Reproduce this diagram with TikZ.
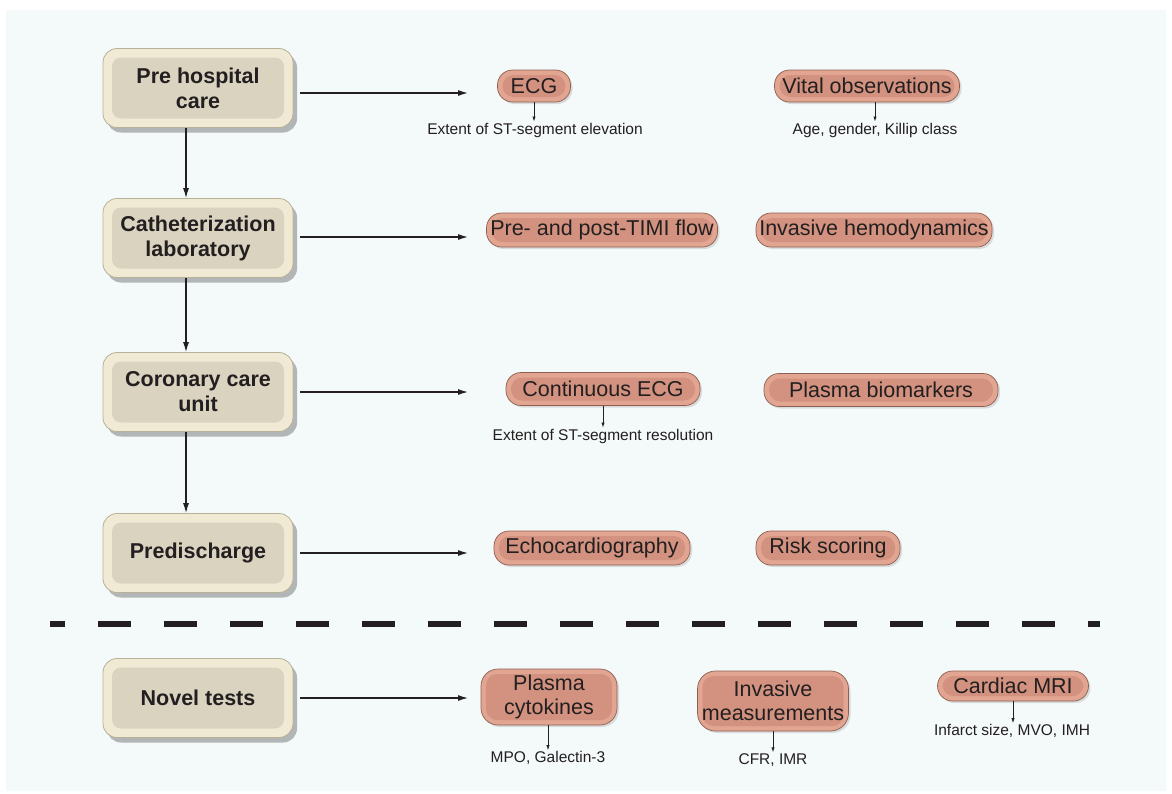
\documentclass[tikz,border=0pt]{standalone}
\usepackage{fontspec}
\setmainfont{Liberation Sans}
\usetikzlibrary{shadows,arrows.meta,calc}
\definecolor{bgedge}{HTML}{D9EDED}
\definecolor{bgmid}{HTML}{F4F9FA}
\definecolor{stageout}{HTML}{F0EAD5}
\definecolor{stagein}{HTML}{DAD3C0}
\definecolor{stageedge}{HTML}{B8B198}
\definecolor{pillout}{HTML}{E2A592}
\definecolor{pillin}{HTML}{D2927F}
\definecolor{pilledge}{HTML}{8E5F50}
\definecolor{txt}{HTML}{231F20}
\pgfdeclarehorizontalshading{bgshade}{100bp}{color(0bp)=(bgedge); color(6bp)=(bgmid); color(94bp)=(bgmid); color(100bp)=(bgedge)}
\tikzset{
  stagebox/.style={draw=stageedge, line width=0.8pt, fill=stageout, rounded corners=14pt,
    minimum width=190pt, minimum height=79pt, inner sep=2pt, align=center, text=txt,
    font=\fontsize{21.5}{25}\selectfont\bfseries,
    drop shadow={shadow xshift=4pt, shadow yshift=-5pt, fill=black!60, opacity=0.45},
    path picture={\fill[stagein, rounded corners=9pt]
      ($(path picture bounding box.south west)+(9pt,9pt)$) rectangle
      ($(path picture bounding box.north east)+(-9pt,-9pt)$);}},
  pill/.style={draw=pilledge, line width=0.7pt, fill=pillout, rounded corners=15pt,
    minimum height=32pt, inner sep=1pt, align=center, text=txt,
    font=\fontsize{21.5}{24}\selectfont,
    drop shadow={shadow xshift=2pt, shadow yshift=-2pt, fill=black!40, opacity=0.3},
    path picture={\fill[pillin, rounded corners=11pt]
      ($(path picture bounding box.south west)+(5pt,5pt)$) rectangle
      ($(path picture bounding box.north east)+(-5pt,-5pt)$);}},
  subtext/.style={text=txt, font=\fontsize{15.5}{18}\selectfont, inner sep=1pt},
  mainarrow/.style={draw=txt, line width=1.2pt, -{Latex[length=10pt,width=6pt]}},
  smallarrow/.style={draw=txt, line width=0.7pt, -{Latex[length=5pt,width=3.2pt]}},
}
\begin{document}
\begin{tikzpicture}[x=1pt,y=-1pt]
\useasboundingbox (0,0) rectangle (1172,793);
\fill[white] (0,0) rectangle (1172,793);
\shade[shading=bgshade] (6,10) rectangle (1166,790);

% stages
\node[stagebox] (s1) at (198,88) {Pre hospital\\care};
\node[stagebox] (s2) at (198,238) {Catheterization\\laboratory};
\node[stagebox] (s3) at (198,392) {Coronary care\\unit};
\node[stagebox] (s4) at (198,553) {Predischarge};
\node[stagebox] (s5) at (198,698) {Novel tests};

% vertical arrows
\draw[mainarrow] ([xshift=-12pt]s1.south) -- ([xshift=-12pt]s2.north);
\draw[mainarrow] ([xshift=-12pt]s2.south) -- ([xshift=-12pt]s3.north);
\draw[mainarrow] ([xshift=-12pt]s3.south) -- ([xshift=-12pt]s4.north);

% horizontal arrow ends
\coordinate (h1) at (468,93);
\coordinate (h2) at (468,237);
\coordinate (h3) at (468,392);
\coordinate (h4) at (468,553);
\coordinate (h5) at (468,698);
\draw[mainarrow, shorten <=7pt] (s1.east |- h1) -- (h1);
\draw[mainarrow, shorten <=7pt] (s2.east |- h2) -- (h2);
\draw[mainarrow, shorten <=7pt] (s3.east |- h3) -- (h3);
\draw[mainarrow, shorten <=7pt] (s4.east |- h4) -- (h4);
\draw[mainarrow, shorten <=7pt] (s5.east |- h5) -- (h5);

% pills
\node[pill, minimum width=73pt] (ecg) at (534,86) {ECG};
\node[pill, minimum width=185pt] (vital) at (867,86) {Vital observations};
\node[pill, minimum width=231pt, minimum height=34pt] (timi) at (602,230) {Pre- and post-TIMI flow};
\node[pill, minimum width=236pt, minimum height=34pt] (hemo) at (874,230) {Invasive hemodynamics};
\node[pill, minimum width=194pt, minimum height=33pt] (cecg) at (603,389) {Continuous ECG};
\node[pill, minimum width=234pt, minimum height=33pt] (bio) at (881,390) {Plasma biomarkers};
\node[pill, minimum width=196pt, minimum height=34pt] (echo) at (592,548) {Echocardiography};
\node[pill, minimum width=144pt, minimum height=34pt] (risk) at (828,548) {Risk scoring};
\node[pill, minimum width=136pt, minimum height=56pt, rounded corners=17pt, font=\fontsize{21.5}{24}\selectfont] (cyto) at (549,697) {Plasma\\cytokines};
\node[pill, minimum width=151pt, minimum height=60pt, rounded corners=18pt, font=\fontsize{21.5}{24}\selectfont] (inv) at (773,701) {Invasive\\measurements};
\node[pill, minimum width=151pt, minimum height=30pt] (mri) at (1013,686) {Cardiac MRI};

% sub texts
\node[subtext] (t1) at (535,130) {Extent of ST-segment elevation};
\node[subtext] (t2) at (875,130) {Age, gender, Killip class};
\node[subtext] (t3) at (603,436) {Extent of ST-segment resolution};
\node[subtext] (t4) at (548,758) {MPO, Galectin-3};
\node[subtext] (t5) at (773,760) {CFR, IMR};
\node[subtext] (t6) at (1012,731) {Infarct size, MVO, IMH};

\draw[smallarrow] (ecg.south) -- (ecg.south |- t1.north);
\draw[smallarrow] (vital.south -| t2.north) -- (t2.north);
\draw[smallarrow] (cecg.south) -- (cecg.south |- t3.north);
\draw[smallarrow] (cyto.south -| t4.north) -- (t4.north);
\draw[smallarrow] (inv.south) -- (inv.south |- t5.north);
\draw[smallarrow] (mri.south) -- (mri.south |- t6.north);

% dashed separator
\draw[txt, line width=6pt, dash pattern=on 33pt off 33pt, dash phase=18pt] (50,624) -- (1100,624);
\end{tikzpicture}
\end{document}
